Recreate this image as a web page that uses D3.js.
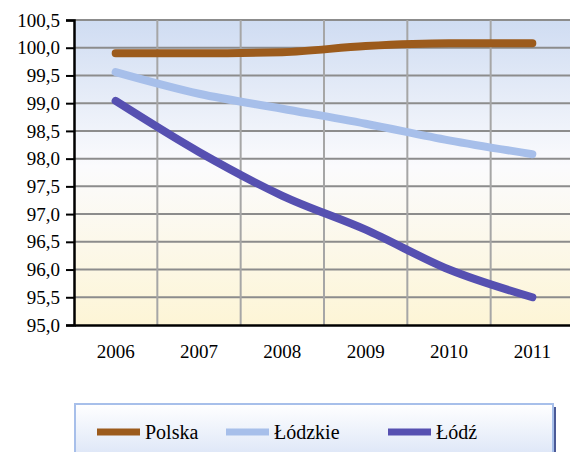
<!DOCTYPE html>
<html>
<head>
<meta charset="utf-8">
<script src="https://cdn.jsdelivr.net/npm/d3@7"></script>
<style>
  body { margin: 0; background: #fff; }
  svg text { font-family: "Liberation Serif", Tinos, "Times New Roman", Times, "DejaVu Serif", serif !important; }
</style>
</head>
<body>
<svg id="canvas" width="570" height="452"></svg>
<script>
const years = ['2006', '2007', '2008', '2009', '2010', '2011']
const polska = [99.9, 99.9, 99.92, 100.03, 100.08, 100.08]
const lodzkie = [99.56, 99.17, 98.9, 98.63, 98.33, 98.08]
const lodz = [99.04, 98.12, 97.33, 96.72, 96.0, 95.5]
const yTicks = [95, 95.5, 96, 96.5, 97, 97.5, 98, 98.5, 99, 99.5, 100, 100.5]

let series = [
    { name: 'Polska', values: polska, color: '#9c5b1c' },
    { name: 'Łódzkie', values: lodzkie, color: '#a7bfea' },
    { name: 'Łódź', values: lodz, color: '#5650b1' }
]

let canvas = d3.select('#canvas')
let plotLeft = 74, plotTop = 20, plotRight = 574, plotBottom = 325

let x = d3.scaleBand().domain(years).range([plotLeft, plotRight])
let y = d3.scaleLinear().domain([95, 100.5]).range([plotBottom, plotTop])

let defs = canvas.append('defs')
let grad = defs.append('linearGradient').attr('id', 'bg')
    .attr('x1', 0).attr('y1', 0).attr('x2', 0).attr('y2', 1)
grad.append('stop').attr('offset', '0%').attr('stop-color', '#cfdcf2')
grad.append('stop').attr('offset', '48%').attr('stop-color', '#fbfbfd')
grad.append('stop').attr('offset', '100%').attr('stop-color', '#fdf5d6')

let lgrad = defs.append('linearGradient').attr('id', 'lg')
    .attr('x1', 0).attr('y1', 0).attr('x2', 0).attr('y2', 1)
lgrad.append('stop').attr('offset', '0%').attr('stop-color', '#ffffff')
lgrad.append('stop').attr('offset', '100%').attr('stop-color', '#dde6f7')

canvas.append('rect')
    .attr('x', plotLeft).attr('y', plotTop)
    .attr('width', plotRight - plotLeft).attr('height', plotBottom - plotTop)
    .attr('fill', 'url(#bg)')

// horizontal grid
canvas.append('g').selectAll('line')
    .data(yTicks.slice(1))
    .enter().append('line')
    .attr('x1', plotLeft).attr('x2', plotRight)
    .attr('y1', (d) => y(d)).attr('y2', (d) => y(d))
    .attr('stroke', '#8c8c8c').attr('stroke-width', 2)

// vertical grid at band boundaries
canvas.append('g').selectAll('line')
    .data(years.slice(1))
    .enter().append('line')
    .attr('x1', (d) => x(d)).attr('x2', (d) => x(d))
    .attr('y1', plotTop).attr('y2', plotBottom)
    .attr('stroke', '#a6a6a6').attr('stroke-width', 2)

// y axis
let yAxis = canvas.append('g')
    .attr('transform', 'translate(' + plotLeft + ',0)')
    .call(d3.axisLeft(y).tickValues(yTicks).tickSize(8).tickPadding(6)
        .tickFormat((d) => d3.format('.1f')(d).replace('.', ',')))
yAxis.attr('font-family', null)
yAxis.select('.domain').attr('stroke', '#000').attr('stroke-width', 2.5)
yAxis.selectAll('.tick line').attr('stroke', '#000').attr('stroke-width', 2)
yAxis.selectAll('text').attr('font-size', 19).attr('fill', '#000')

// x axis
let xAxis = canvas.append('g')
    .attr('transform', 'translate(0,' + plotBottom + ')')
    .call(d3.axisBottom(x).tickSize(0).tickPadding(20))
xAxis.attr('font-family', null)
xAxis.select('.domain').attr('stroke', '#000').attr('stroke-width', 2.5)
xAxis.selectAll('text').attr('font-size', 19).attr('fill', '#000')

let line = d3.line()
    .x((d, i) => x(years[i]) + x.bandwidth() / 2)
    .y((d) => y(d))
    .curve(d3.curveMonotoneX)

canvas.append('g').selectAll('path')
    .data(series)
    .enter().append('path')
    .attr('d', (s) => line(s.values))
    .attr('fill', 'none')
    .attr('stroke', (s) => s.color)
    .attr('stroke-width', 8)
    .attr('stroke-linecap', 'round')
    .attr('stroke-linejoin', 'round')

// legend
let legend = canvas.append('g')
legend.append('rect')
    .attr('x', 552).attr('y', 407).attr('width', 4).attr('height', 50)
    .attr('fill', '#4b5a97')
legend.append('rect')
    .attr('x', 75).attr('y', 404).attr('width', 478).attr('height', 52)
    .attr('fill', 'url(#lg)')
    .attr('stroke', '#a7bfea').attr('stroke-width', 2)

let legendX = [97, 226, 388]
let item = legend.selectAll('g.item')
    .data(series)
    .enter().append('g')
    .attr('class', 'item')
    .attr('transform', (s, i) => 'translate(' + legendX[i] + ',432)')
item.append('rect')
    .attr('x', 0).attr('y', -3.5).attr('width', 43).attr('height', 7)
    .attr('fill', (s) => s.color)
item.append('text')
    .attr('x', 48).attr('y', 7)
    .attr('font-size', 20).attr('fill', '#000')
    .text((s) => s.name)
</script>
</body>
</html>
